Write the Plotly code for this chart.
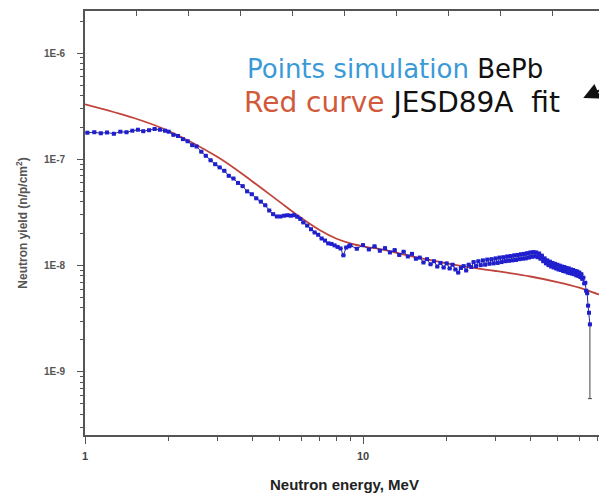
import math
import plotly.graph_objects as go

# ---- data ----
# simulation points (BePb), energy in MeV, yield in n/p/cm^2
sim_energy = [1.02, 1.08, 1.14, 1.2, 1.27, 1.34, 1.41, 1.48, 1.55, 1.62, 1.7, 1.78, 1.86, 1.94,
              2.0, 2.08, 2.16, 2.25, 2.34, 2.43, 2.52, 2.62, 2.72, 2.83, 2.94, 3.05, 3.17, 3.29,
              3.42, 3.55, 3.69, 3.83, 3.98, 4.13, 4.29, 4.45,
              4.6, 4.75, 4.9, 5.05, 5.2, 5.35, 5.5, 5.65, 5.8, 5.95, 6.1, 6.3, 6.5, 6.7, 6.9,
              7.1, 7.3, 7.5, 7.7, 7.9, 8.1, 8.3, 8.5, 8.7, 8.9,
              9.0, 9.5, 10.0, 10.5, 11.0, 11.5, 12.0, 12.5, 13.0, 13.5, 14.0, 14.5, 15.0, 15.5,
              16.0, 16.5, 17.0, 17.5, 18.0, 18.5, 19.0, 19.5, 20.0, 20.5, 21.0, 21.5, 22.0, 22.5,
              23.0, 23.5, 24.0, 24.5, 25.0, 25.5, 26.0, 26.5, 27.0, 27.5, 28.0, 28.5, 29.0, 29.5,
              30.0, 30.5, 31.0, 31.5, 32.0, 32.5, 33.0, 33.5, 34.0, 34.5, 35.0, 35.5, 36.0, 36.5,
              37.0, 37.5, 38.0, 38.5, 39.0, 39.5, 40.0, 40.5, 41.0, 41.5, 42.0, 42.5, 43.0, 43.5,
              44.0, 44.5, 45.0, 45.5, 46.0, 46.5, 47.0, 47.5, 48.0, 48.5, 49.0, 49.5, 50.0, 50.5,
              51.0, 51.5, 52.0, 52.5, 53.0, 53.5, 54.0, 54.5, 55.0, 55.5, 56.0, 56.5, 57.0, 57.5,
              58.0, 58.5, 59.0, 59.5, 60.0, 60.5, 61.0, 61.5, 62.0, 62.5, 63.0, 63.5, 64.0, 64.5,
              65.0, 65.5]
sim_yield = [1.78e-7, 1.80e-7, 1.76e-7, 1.79e-7, 1.74e-7, 1.82e-7, 1.80e-7, 1.86e-7, 1.90e-7,
             1.84e-7, 1.88e-7, 1.93e-7, 1.90e-7, 1.86e-7,
             1.82e-7, 1.70e-7, 1.66e-7, 1.55e-7, 1.48e-7, 1.36e-7, 1.32e-7, 1.18e-7, 1.08e-7,
             9.8e-8, 9.0e-8, 8.4e-8, 7.8e-8, 7.0e-8, 6.6e-8, 6.0e-8, 5.6e-8, 5.0e-8, 4.7e-8,
             4.3e-8, 4.0e-8, 3.7e-8,
             3.3e-8, 3.05e-8, 2.9e-8, 2.9e-8, 2.95e-8, 2.98e-8, 2.95e-8, 2.98e-8, 2.88e-8, 2.75e-8,
             2.55e-8, 2.38e-8, 2.2e-8, 2.05e-8, 1.95e-8, 1.8e-8, 1.72e-8, 1.62e-8, 1.6e-8, 1.55e-8,
             1.5e-8, 1.45e-8, 1.25e-8, 1.48e-8, 1.52e-8,
             1.55e-8, 1.44e-8, 1.56e-8, 1.42e-8, 1.52e-8, 1.38e-8, 1.46e-8, 1.33e-8, 1.40e-8,
             1.26e-8, 1.35e-8, 1.22e-8, 1.29e-8, 1.16e-8, 1.19e-8, 1.07e-8, 1.15e-8, 1.03e-8,
             1.10e-8, 0.98e-8, 1.06e-8, 0.96e-8, 1.05e-8, 0.94e-8, 1.02e-8, 0.92e-8, 0.86e-8,
             0.95e-8, 0.99e-8, 0.90e-8, 1.02e-8, 0.97e-8, 1.08e-8, 0.99e-8, 1.10e-8, 1.01e-8,
             1.12e-8, 1.02e-8, 1.14e-8, 1.04e-8, 1.15e-8, 1.05e-8, 1.17e-8, 1.06e-8, 1.19e-8,
             1.08e-8, 1.20e-8, 1.10e-8, 1.22e-8, 1.11e-8, 1.23e-8, 1.12e-8, 1.25e-8, 1.13e-8,
             1.26e-8, 1.15e-8, 1.28e-8, 1.16e-8, 1.29e-8, 1.17e-8, 1.31e-8, 1.19e-8, 1.33e-8,
             1.21e-8, 1.34e-8, 1.22e-8, 1.33e-8, 1.20e-8, 1.30e-8, 1.16e-8, 1.24e-8, 1.10e-8,
             1.17e-8, 1.05e-8, 1.12e-8, 1.01e-8, 1.09e-8, 0.98e-8, 1.06e-8, 0.96e-8, 1.04e-8,
             0.94e-8, 1.02e-8, 0.92e-8, 1.00e-8, 0.91e-8, 0.98e-8, 0.89e-8, 0.97e-8, 0.88e-8,
             0.95e-8, 0.86e-8, 0.94e-8, 0.85e-8, 0.92e-8, 0.84e-8, 0.91e-8, 0.83e-8, 0.89e-8,
             0.81e-8, 0.88e-8, 0.80e-8, 0.86e-8, 0.78e-8, 0.83e-8, 0.75e-8, 0.77e-8, 0.68e-8,
             0.69e-8, 0.58e-8, 0.55e-8, 0.42e-8, 0.36e-8, 0.28e-8]
# lower error of the last point
last_err_low = 2.24e-9

# JESD89A fit curve
fit_energy = [1, 1.5, 2, 3, 4, 5, 6, 7, 8, 9, 10, 12, 15, 20, 25, 30, 40, 50, 60, 70, 75]
fit_yield = [3.3e-7, 2.45e-7, 1.85e-7, 1.05e-7, 6.2e-8, 4.0e-8, 2.8e-8, 2.15e-8, 1.8e-8, 1.62e-8,
             1.52e-8, 1.4e-8, 1.22e-8, 1.05e-8, 9.5e-9, 8.9e-9, 7.9e-9, 7.0e-9, 6.2e-9, 5.4e-9,
             5.1e-9]

x_tick_vals = [1, 10]
x_tick_text = ["1", "10"]
x_minor_vals = [2, 3, 4, 5, 6, 7, 8, 9, 20, 30, 40, 50, 60, 70]
y_tick_vals = [1e-9, 1e-8, 1e-7, 1e-6]
y_tick_text = ["1E-9", "1E-8", "1E-7", "1E-6"]
y_minor_vals = [m * 10.0 ** e for e in (-10, -9, -8, -7, -6) for m in (2, 3, 4, 5, 6, 7, 8, 9)]
frame_ticks = [1, 2, 3, 4, 5, 6, 7, 8, 9]

x_range_max = 73.6
y_range = [-9.594, -5.604]

AXC = "#555555"

err_minus = [0] * (len(sim_yield) - 1) + [last_err_low]

fig = go.Figure()
fig.add_trace(go.Scatter(
    x=fit_energy, y=fit_yield, mode="lines", line=dict(color="#c0443c", width=1.8, shape="spline"),
    showlegend=False, hoverinfo="skip"))
fig.add_trace(go.Scatter(
    x=sim_energy, y=sim_yield, mode="lines+markers",
    line=dict(color="#2d2d90", width=1),
    marker=dict(color="#1f1fcf", size=4, symbol="square"),
    error_y=dict(type="data", symmetric=False, array=[0] * len(sim_yield), arrayminus=err_minus,
                 color="#444444", thickness=1, width=2),
    showlegend=False))
# frame axes (top / right) -- empty trace
fig.add_trace(go.Scatter(x=[], y=[], xaxis="x2", yaxis="y2", showlegend=False))

# the page body has an 8px margin: the figure is shrunk so the plot lands where the reference's is
fig.update_layout(
    width=599, height=489,
    margin=dict(l=77, r=3, t=3, b=62),
    paper_bgcolor="white", plot_bgcolor="white",
    font=dict(family="Liberation Sans, Arial, sans-serif", color="#444444"),
    xaxis=dict(type="log", range=[0, math.log10(x_range_max)], automargin=False,
               tickvals=x_tick_vals, ticktext=x_tick_text, ticks="outside", ticklen=7,
               tickcolor=AXC, tickwidth=1.2, ticklabelstandoff=3,
               minor=dict(tickvals=x_minor_vals, ticks="outside", ticklen=4, tickcolor=AXC),
               showline=True, linecolor=AXC, linewidth=1.6, showgrid=False, zeroline=False,
               tickfont=dict(size=11, color="#444444", weight="bold"),
               title=dict(text="Neutron energy, MeV", standoff=18,
                          font=dict(size=15, color="#222222", weight="bold"))),
    yaxis=dict(type="log", range=y_range, automargin=False,
               tickvals=y_tick_vals, ticktext=y_tick_text, ticks="outside", ticklen=6,
               tickcolor=AXC, tickwidth=1.2, ticklabelstandoff=10,
               minor=dict(tickvals=y_minor_vals, ticks="outside", ticklen=3, tickcolor=AXC),
               showline=True, linecolor=AXC, linewidth=1.6, showgrid=False, zeroline=False,
               tickfont=dict(size=10, color="#555555", weight="bold"),
               title=dict(text="Neutron yield (n/p/cm<sup>2</sup>)", standoff=14,
                          font=dict(size=12, color="#555555", weight="bold"))),
    xaxis2=dict(overlaying="x", side="top", range=[0, 10], tickvals=frame_ticks, automargin=False,
                ticks="inside", ticklen=5, tickcolor=AXC, showticklabels=False,
                showline=True, linecolor=AXC, linewidth=1.6, showgrid=False, zeroline=False),
    yaxis2=dict(overlaying="y", side="right", range=[0, 10], tickvals=frame_ticks, automargin=False,
                ticks="inside", ticklen=5, tickcolor=AXC, showticklabels=False,
                showline=True, linecolor=AXC, linewidth=1.6, showgrid=False, zeroline=False),
)

fig.add_annotation(
    xref="paper", yref="paper", x=0.308, y=0.863, xanchor="left", yanchor="middle",
    text="<span style='color:#3a9ad8'>Points simulation</span> BePb",
    showarrow=False, font=dict(family="DejaVu Sans", size=26, color="#111111"))
fig.add_annotation(
    xref="paper", yref="paper", x=0.303, y=0.785, xanchor="left", yanchor="middle",
    text="<span style='color:#d05a3a'>Red curve</span> JESD89A&nbsp;&nbsp;fit",
    showarrow=False, font=dict(family="DejaVu Sans", size=28, color="#111111"))
fig.add_annotation(
    xref="paper", yref="paper", x=0.96, y=0.795, text=" ", showarrow=True,
    arrowhead=2, arrowsize=1.6, arrowwidth=2, arrowcolor="#111111", ax=26, ay=-11)

fig.write_html("out.html")
